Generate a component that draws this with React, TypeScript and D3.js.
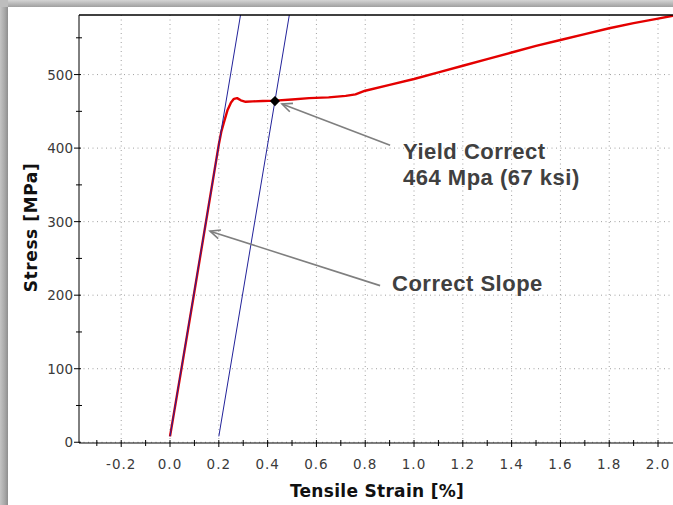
import React from 'react';
import * as d3 from 'd3';

// Courbe de traction (déformation %, contrainte MPa)
const strain = [0.0, 0.05, 0.1, 0.15, 0.2, 0.21, 0.22, 0.235, 0.25, 0.262, 0.275, 0.29, 0.31, 0.34, 0.38, 0.43, 0.5, 0.57, 0.65, 0.72, 0.76, 0.8, 0.9, 1.0, 1.1, 1.2, 1.3, 1.4, 1.5, 1.6, 1.7, 1.8, 1.9, 2.0, 2.06, 2.12];
const stress = [8, 106, 205, 305, 405, 422, 434, 451, 462, 467, 468, 465, 463, 463.5, 464, 464.5, 466, 468, 469, 471, 473, 478, 486, 494, 503, 512, 521, 530, 539, 547, 555, 563, 570, 576, 580, 584];

// Droites de pente élastique (origine et décalage 0.2 %)
const slopeStrain = [0.0, 0.295];
const offsetStrain = [0.2, 0.495];
const slopeStress = [8, 593];

// Point d'écoulement
const yieldPoint = { strain: 0.43, stress: 464 };

const xMajorTicks = [-0.2, 0.0, 0.2, 0.4, 0.6, 0.8, 1.0, 1.2, 1.4, 1.6, 1.8, 2.0];
const xMinorTicks = [-0.3, -0.1, 0.1, 0.3, 0.5, 0.7, 0.9, 1.1, 1.3, 1.5, 1.7, 1.9, 2.1];
const yMajorTicks = [0, 100, 200, 300, 400, 500];
const yMinorTicks = [50, 150, 250, 350, 450, 550];

// Annotations (en unités des données)
const yieldArrow = { from: [0.902, 404], to: [0.459, 460] };
const yieldText = { at: [0.955, 385], lines: ['Yield Correct', '464 Mpa (67 ksi)'] };
const slopeArrow = { from: [0.861, 213], to: [0.164, 287] };
const slopeText = { at: [0.91, 206], lines: ['Correct Slope'] };

const W = 673;
const H = 505;
const left = 79;
const top = 15;
const right = 700;
const bottom = 443;

export default function App() {
  const x = d3.scaleLinear().domain([-0.373, 2.172]).range([left, right]);
  const y = d3.scaleLinear().domain([-1, 581]).range([bottom, top]);

  const pts = strain.map((s, i) => [s, stress[i]] as [number, number]);
  const line = d3.line<[number, number]>().x(d => x(d[0])).y(d => y(d[1]));
  const l1 = slopeStrain.map((s, i) => [s, slopeStress[i]] as [number, number]);
  const l2 = offsetStrain.map((s, i) => [s, slopeStress[i]] as [number, number]);

  const arrow = (a: { from: number[]; to: number[] }) => {
    const x1 = x(a.from[0]), y1 = y(a.from[1]);
    const x2 = x(a.to[0]), y2 = y(a.to[1]);
    const ang = Math.atan2(y1 - y2, x1 - x2);
    const len = 11, spread = 0.42;
    const h1 = [x2 + len * Math.cos(ang + spread), y2 + len * Math.sin(ang + spread)];
    const h2 = [x2 + len * Math.cos(ang - spread), y2 + len * Math.sin(ang - spread)];
    return (
      <g stroke="#7f7f7f" strokeWidth={1.6} fill="none">
        <line x1={x1} y1={y1} x2={x2} y2={y2} />
        <polyline points={`${h1[0]},${h1[1]} ${x2},${y2} ${h2[0]},${h2[1]}`} />
      </g>
    );
  };

  const note = (t: { at: number[]; lines: string[] }) => (
    <text x={x(t.at[0])} y={y(t.at[1])} fontFamily="'Liberation Sans', Arial, sans-serif" fontWeight="bold"
      fontSize={22} fill="#404040" letterSpacing={0.5}>
      {t.lines.map((s, i) => (
        <tspan key={i} x={x(t.at[0])} dy={i === 0 ? 0 : 26}>{s}</tspan>
      ))}
    </text>
  );

  const diamond = d3.symbol().type(d3.symbolSquare).size(52)();

  return (
    <svg width={W} height={H} style={{ position: 'absolute', left: 0, top: 0 }}>
      <defs>
        <linearGradient id="shL" x1="0" x2="1" y1="0" y2="0">
          <stop offset="0" stopColor="#c4c4c4" />
          <stop offset="0.6" stopColor="#a8a8a8" />
          <stop offset="1" stopColor="#8e8e8e" />
        </linearGradient>
        <linearGradient id="shT" x1="0" x2="0" y1="0" y2="1">
          <stop offset="0" stopColor="#d4d4d4" />
          <stop offset="1" stopColor="#a0a0a0" />
        </linearGradient>
        <clipPath id="plot">
          <rect x={left} y={top} width={right - left} height={bottom - top} />
        </clipPath>
      </defs>

      {/* cadre avec ombre */}
      <rect x={0} y={0} width={W} height={H} fill="#ffffff" />
      <rect x={0} y={0} width={8} height={H} fill="url(#shL)" />
      <rect x={0} y={0} width={W} height={7} fill="url(#shT)" />
      <rect x={0} y={0} width={8} height={7} fill="#bdbdbd" />

      {/* grille */}
      <g stroke="#a0a0a0" strokeWidth={1} strokeDasharray="1,3.5">
        {xMajorTicks.map(t => (
          <line key={t} x1={x(t)} x2={x(t)} y1={top} y2={bottom} />
        ))}
        {yMajorTicks.map(t => (
          <line key={t} x1={left} x2={right} y1={y(t)} y2={y(t)} />
        ))}
      </g>

      {/* courbes */}
      <g clipPath="url(#plot)">
        <path d={line(pts) || ''} fill="none" stroke="#e40000" strokeWidth={2.4} strokeLinejoin="round" />
        <path d={line(l1) || ''} fill="none" stroke="#22229a" strokeWidth={1} />
        <path d={line(l2) || ''} fill="none" stroke="#22229a" strokeWidth={1} />
      </g>

      <path d={diamond} transform={`translate(${x(yieldPoint.strain)},${y(yieldPoint.stress)}) rotate(45)`} fill="#000" />

      {/* axes */}
      <g stroke="#000" strokeWidth={1}>
        <line x1={left} x2={right} y1={top} y2={top} strokeWidth={1.5} />
        <line x1={left} x2={left} y1={top} y2={bottom} />
        <line x1={left} x2={right} y1={bottom} y2={bottom} />
        {xMajorTicks.map(t => (
          <line key={t} x1={x(t)} x2={x(t)} y1={bottom - 3} y2={bottom + 4} />
        ))}
        {xMinorTicks.map(t => (
          <line key={t} x1={x(t)} x2={x(t)} y1={bottom - 3} y2={bottom + 3} />
        ))}
        {yMajorTicks.map(t => (
          <line key={t} x1={left - 5} x2={left + 2} y1={y(t)} y2={y(t)} />
        ))}
        {yMinorTicks.map(t => (
          <line key={t} x1={left - 3} x2={left + 3} y1={y(t)} y2={y(t)} />
        ))}
      </g>

      <g fontFamily="'DejaVu Sans', Verdana, sans-serif" fontSize={13.5} fill="#3a3a3a">
        {xMajorTicks.map(t => (
          <text key={t} x={x(t)} y={bottom + 26} textAnchor="middle" letterSpacing={1}>
            {d3.format('.1f')(t).replace('−', '-')}
          </text>
        ))}
        {yMajorTicks.map(t => (
          <text key={t} x={left - 6} y={y(t) + 5} textAnchor="end">{t}</text>
        ))}
      </g>

      <text x={377} y={497} textAnchor="middle" fontFamily="'DejaVu Sans', Verdana, sans-serif"
        fontWeight="bold" fontSize={17} fill="#111" letterSpacing={0.3}>Tensile Strain [%]</text>
      <text transform="translate(36.5,227.5) rotate(-90)" textAnchor="middle"
        fontFamily="'DejaVu Sans', Verdana, sans-serif" fontWeight="bold" fontSize={17} fill="#111"
        letterSpacing={0.6}>Stress [MPa]</text>

      {arrow(yieldArrow)}
      {arrow(slopeArrow)}
      {note(yieldText)}
      {note(slopeText)}
    </svg>
  );
}
